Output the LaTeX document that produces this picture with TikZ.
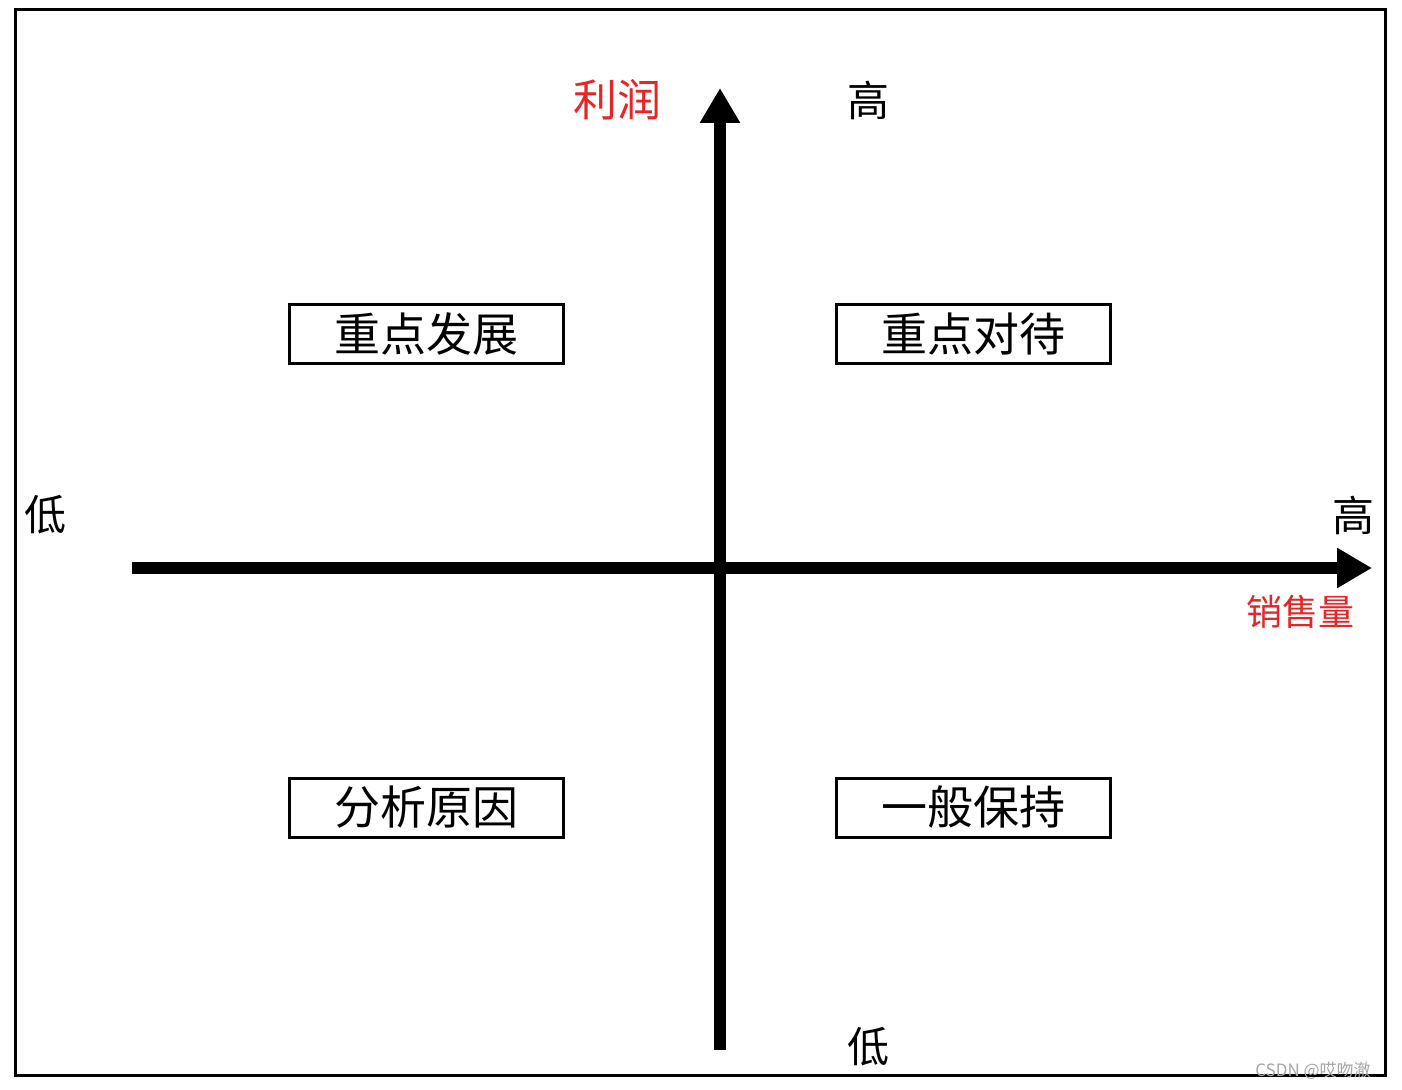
\documentclass[tikz,border=0pt]{standalone}
\usepackage{fontspec}
\setmainfont{Noto Sans CJK SC}
\usetikzlibrary{arrows.meta}
\definecolor{axisred}{RGB}{232,36,36}

\begin{document}
\begin{tikzpicture}[x=0.5pt,y=-0.5pt]
\tikzset{quadrant/.style={rectangle, draw, line width=1.5pt, minimum width=137pt, minimum height=29.5pt, inner sep=0pt, font=\fontsize{23}{23}\selectfont}}
\tikzset{level/.style={font=\fontsize{21}{21}\selectfont}}
\tikzset{axisname/.style={text=axisred, font=\fontsize{22}{22}\selectfont}}
\tikzset{axis/.style={line width=6pt, -{Triangle[length=17.5pt,width=19pt]}}}
\useasboundingbox (0,0) rectangle (1402,1090);
\draw[line width=1.5pt] (15,10) rectangle (1385,1075);
% axes
\coordinate (xstart) at (132,568);
\coordinate (xend) at (1372,568);
\coordinate (ystart) at (720,1050);
\coordinate (yend) at (720,88);
\draw[axis] (ystart) -- (yend);
\draw[axis] (xstart) -- (xend);
% labels
\node[axisname] (profit) at (617,100) {利润};
\node[level] (yhigh) at (868,100) {高};
\node[level] (ylow) at (868,1047) {低};
\node[level] (xlow) at (46,515) {低};
\node[level] (xhigh) at (1353,515) {高};
\node[axisname, font=\fontsize{18}{18}\selectfont] (sales) at (1300,612) {销售量};
% quadrants
\node[quadrant] (develop) at (426,334.5) {重点发展};
\node[quadrant] (focus) at (973,334.5) {重点对待};
\node[quadrant] (analyse) at (426,807.5) {分析原因};
\node[quadrant] (keep) at (973,807.5) {一般保持};
\node[text=black!35, font=\fontsize{8.5}{8.5}\selectfont] (mark) at (1313,1071) {CSDN @哎吻澈};
\end{tikzpicture}
\end{document}
